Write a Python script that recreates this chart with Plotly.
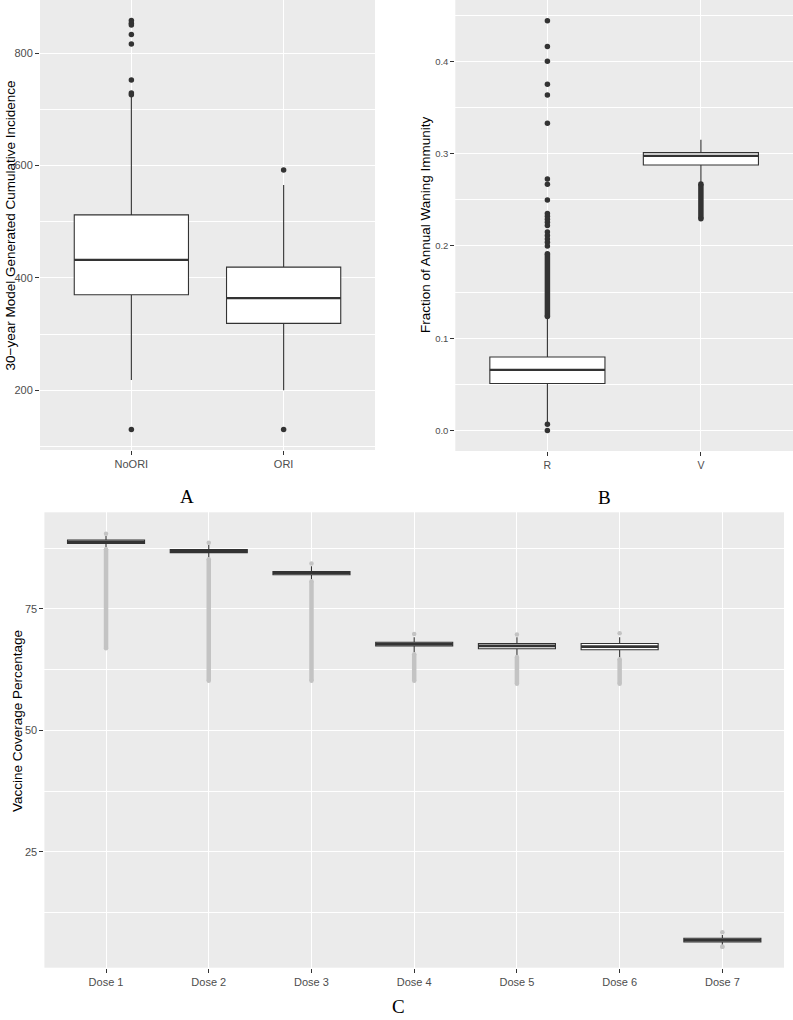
import plotly.graph_objects as go

W, H = 793, 1020

# ---------------- Panel A data ----------------
a_cats = ["NoORI", "ORI"]
a_q1 = [370, 319]
a_med = [432, 364]
a_q3 = [512, 419]
a_lo = [218, 200]
a_hi = [722, 565]
a_out_noori = [858, 853, 850, 833, 816, 752, 729, 726, 130]
a_out_ori = [592, 130]

# ---------------- Panel B data ----------------
b_cats = ["R", "V"]
b_q1 = [0.051, 0.2877]
b_med = [0.0657, 0.2975]
b_q3 = [0.0797, 0.301]
b_lo = [0.008, 0.2685]
b_hi = [0.1215, 0.315]
b_out_r = [0.444, 0.416, 0.400, 0.375, 0.3635, 0.333, 0.2725, 0.2667, 0.2497,
           0.235, 0.232, 0.229, 0.2257, 0.222, 0.215, 0.2113, 0.2075, 0.204,
           0.200, 0.0069, 0.0]
b_band_r = [0.1235, 0.1915]   # dense run of outliers (low, high)
b_band_v = [0.2295, 0.2670]

# ---------------- Panel C data ----------------
c_cats = ["Dose 1", "Dose 2", "Dose 3", "Dose 4", "Dose 5", "Dose 6", "Dose 7"]
c_q1 = [88.5, 86.6, 82.05, 67.4, 66.8, 66.6, 6.47]
c_med = [88.85, 86.9, 82.4, 67.8, 67.4, 67.25, 6.85]
c_q3 = [89.2, 87.22, 82.71, 68.15, 67.9, 67.9, 7.2]
c_lo = [87.7, 85.65, 81.1, 66.1, 65.5, 65.05, 5.8]
c_hi = [90.0, 88.2, 83.8, 69.2, 69.2, 69.2, 7.9]
c_out_top = [90.5, 88.65, 84.35, 69.85, 69.75, 70.0, 8.45]
c_band_top = [87.3, 85.25, 80.7, 65.7, 65.1, 64.65, 5.45]
c_band_bot = [66.9, 60.2, 60.2, 60.2, 59.6, 59.6, 5.45]

BG = "#EBEBEB"
DARK = "#333333"
GREY_OUT = "#C3C3C3"
FONT = "Liberation Sans"
BOXW = 0.75

fig = go.Figure()


def add_box(fig, xa, ya, n, q1, med, q3, lo, hi):
    xs = list(range(n))
    fig.add_trace(go.Box(
        x=xs, q1=q1, median=med, q3=q3, lowerfence=lo, upperfence=hi,
        width=BOXW, fillcolor="white", whiskerwidth=0,
        line=dict(color=DARK, width=1.1), boxpoints=False,
        xaxis=xa, yaxis=ya, hoverinfo="skip", showlegend=False))


def add_medians(fig, xa, ya, med, width):
    xs, ys = [], []
    for i, m in enumerate(med):
        xs += [i - BOXW / 2, i + BOXW / 2, None]
        ys += [m, m, None]
    fig.add_trace(go.Scatter(x=xs, y=ys, mode="lines",
                             line=dict(color=DARK, width=width),
                             xaxis=xa, yaxis=ya, hoverinfo="skip",
                             showlegend=False))


def add_points(fig, xa, ya, xpos, vals, color, size):
    fig.add_trace(go.Scatter(x=[xpos] * len(vals), y=vals, mode="markers",
                             marker=dict(color=color, size=size, line=dict(width=0)),
                             xaxis=xa, yaxis=ya, hoverinfo="skip",
                             showlegend=False))


def add_band(fig, xa, ya, xpos, band, color, size):
    fig.add_trace(go.Scatter(x=[xpos, xpos], y=band, mode="lines+markers",
                             line=dict(color=color, width=size),
                             marker=dict(color=color, size=size, line=dict(width=0)),
                             xaxis=xa, yaxis=ya, hoverinfo="skip",
                             showlegend=False))


# Panel A
add_box(fig, "x", "y", 2, a_q1, a_med, a_q3, a_lo, a_hi)
add_points(fig, "x", "y", 0, a_out_noori, DARK, 5.5)
add_points(fig, "x", "y", 1, a_out_ori, DARK, 5.5)
add_medians(fig, "x", "y", a_med, 2.3)

# Panel B
add_box(fig, "x2", "y2", 2, b_q1, b_med, b_q3, b_lo, b_hi)
add_points(fig, "x2", "y2", 0, b_out_r, DARK, 5.5)
add_band(fig, "x2", "y2", 0, b_band_r, DARK, 5.5)
add_band(fig, "x2", "y2", 1, b_band_v, DARK, 5.5)
add_medians(fig, "x2", "y2", b_med, 2.3)

# Panel C
add_box(fig, "x3", "y3", 7, c_q1, c_med, c_q3, c_lo, c_hi)
for i in range(7):
    add_points(fig, "x3", "y3", i, [c_out_top[i]], GREY_OUT, 4.5)
    add_band(fig, "x3", "y3", i, [c_band_bot[i], c_band_top[i]], GREY_OUT, 4.5)
add_medians(fig, "x3", "y3", c_med, 2.6)


def axis_common(size):
    return dict(showgrid=True, gridcolor="white", gridwidth=1.07,
                zeroline=False, showline=False, ticks="outside", ticklen=4,
                tickwidth=1.07, tickcolor=DARK,
                tickfont=dict(family=FONT, size=size, color="#4D4D4D"))


def px_x(p):
    return min(1.0, max(0.0, p / W))


def px_y(p):
    return min(1.0, max(0.0, 1 - p / H))


layout = dict(
    width=W, height=H, margin=dict(l=0, r=0, t=0, b=0),
    paper_bgcolor="white", plot_bgcolor=BG, showlegend=False,
    boxmode="overlay",
)

# Panel A axes
layout["xaxis"] = dict(axis_common(11), domain=[px_x(40), px_x(375)],
                       range=[-0.6, 1.6], tickmode="array",
                       tickvals=list(range(len(a_cats))), ticktext=a_cats,
                       anchor="y")
layout["yaxis"] = dict(axis_common(11), domain=[px_y(450), px_y(0)],
                       range=[93.6, 894.4], tickmode="array",
                       tickvals=[200, 400, 600, 800],
                       minor=dict(tickmode="array", tickvals=[100, 300, 500, 700],
                                  showgrid=True, gridcolor="white", gridwidth=0.55,
                                  ticks=""),
                       anchor="x")

# Panel B axes
layout["xaxis2"] = dict(axis_common(10.5), domain=[px_x(455.3), 1.0],
                        range=[-0.6, 1.6], tickmode="array",
                        tickvals=list(range(len(b_cats))), ticktext=b_cats,
                        anchor="y2")
layout["yaxis2"] = dict(axis_common(9.5), domain=[px_y(451), px_y(0)],
                        range=[-0.0222, 0.4664], tickmode="array",
                        tickvals=[0.0, 0.1, 0.2, 0.3, 0.4],
                        ticktext=["0.0", "0.1", "0.2", "0.3", "0.4"],
                        minor=dict(tickmode="array",
                                   tickvals=[0.05, 0.15, 0.25, 0.35, 0.45],
                                   showgrid=True, gridcolor="white", gridwidth=0.55,
                                   ticks=""),
                        anchor="x2")

# Panel C axes
layout["xaxis3"] = dict(axis_common(11), domain=[px_x(44.4), px_x(784)],
                        range=[-0.6, 6.6], tickmode="array",
                        tickvals=list(range(len(c_cats))), ticktext=c_cats,
                        anchor="y3")
layout["yaxis3"] = dict(axis_common(11), domain=[px_y(967.7), px_y(512.3)],
                        range=[1.15, 94.9], tickmode="array",
                        tickvals=[25, 50, 75],
                        minor=dict(tickmode="array", tickvals=[12.5, 37.5, 62.5, 87.5],
                                   showgrid=True, gridcolor="white", gridwidth=0.55,
                                   ticks=""),
                        anchor="x3")

fig.update_layout(**layout)

title_font = dict(family=FONT, size=13.5, color="black")
label_font = dict(family="Liberation Serif", size=19, color="black")
annots = [
    dict(text="30\u2212year Model Generated Cumulative Incidence", x=px_x(9.5), y=px_y(226),
         textangle=-90, font=title_font),
    dict(text="Fraction of Annual Waning Immunity", x=px_x(425), y=px_y(225),
         textangle=-90, font=title_font),
    dict(text="Vaccine Coverage Percentage", x=px_x(17), y=px_y(721),
         textangle=-90, font=title_font),
    dict(text="A", x=px_x(186.7), y=px_y(496), font=label_font),
    dict(text="B", x=px_x(604), y=px_y(497), font=label_font),
    dict(text="C", x=px_x(398), y=px_y(1006), font=label_font),
]
for a in annots:
    fig.add_annotation(xref="paper", yref="paper", showarrow=False,
                       xanchor="center", yanchor="middle", **a)

# remove the browser's default page margin so the figure starts at the corner
fig.write_html("out.html", config={"displayModeBar": False},
               post_script="document.body.style.margin='0px';")
